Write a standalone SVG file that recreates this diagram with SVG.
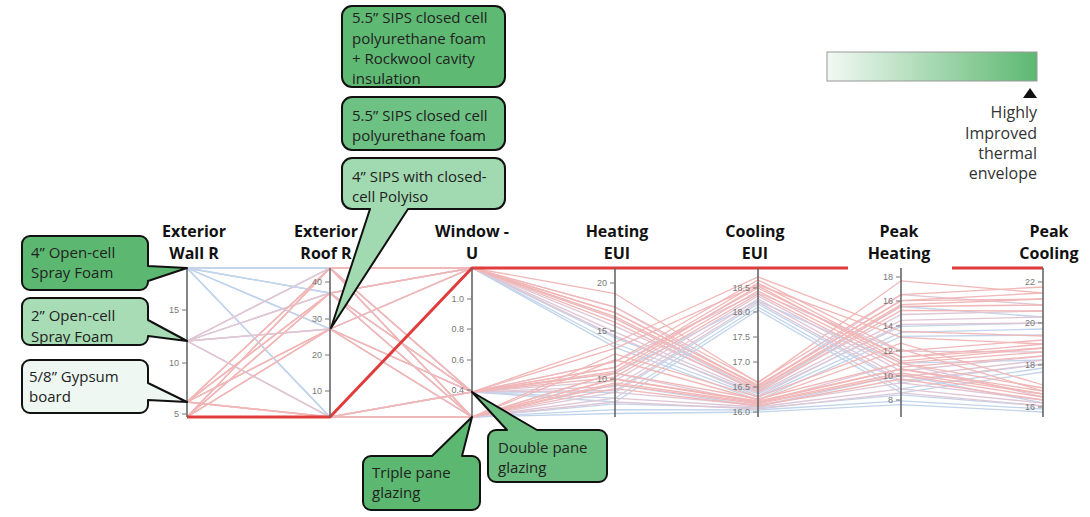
<svg xmlns="http://www.w3.org/2000/svg" width="1090" height="517" viewBox="0 0 1090 517">
<defs>
<linearGradient id="legendGrad" x1="0" y1="0" x2="1" y2="0">
<stop offset="0" stop-color="#f2f9f4"/>
<stop offset="1" stop-color="#5cb870"/>
</linearGradient>
<style>
.faint{opacity:.42}
.b{fill:none;stroke:#6f9bd0;stroke-width:1.3}
.m{fill:none;stroke:#b47a9c;stroke-width:1.3}
.r{fill:none;stroke:#e05555;stroke-width:1.3}
.hl{fill:none;stroke:#e03c3c;stroke-width:3;stroke-linejoin:round}
.axis{stroke:#666;stroke-width:1.6}
.tick{stroke:#777;stroke-width:1}
.tl{font-family:"Liberation Sans",Arial,sans-serif;font-size:9px;fill:#777;text-anchor:end}
.title{font-family:"Open Sans","Liberation Sans",sans-serif;font-weight:bold;font-size:16px;fill:#111;text-anchor:middle}
.call{stroke:#111;stroke-width:2;stroke-linejoin:round}
.ct{font-family:"Open Sans","Liberation Sans",sans-serif;font-size:15px;fill:#222}
.lg{font-family:"Open Sans","Liberation Sans",sans-serif;font-size:16px;fill:#333;text-anchor:end}
</style>
</defs>

<g id="connectors">
<g class="faint">
<polyline class="b" points="187,268 330,268 472,268 615,347.3 758,400 901,336.3 1043,335"/>
<polyline class="b" points="187,268 330,293 472,268 615,343.5 758,397 901,332.3 1043,329"/>
<polyline class="b" points="187,268 330,329 472,268 615,337.7 758,394 901,326.4 1043,323"/>
<polyline class="b" points="187,268 330,417 472,268 615,318.5 758,391 901,306.5 1043,317"/>
<polyline class="m" points="187,341 330,268 472,268 615,335.8 758,396 901,324.4 1043,323"/>
<polyline class="m" points="187,341 330,293 472,268 615,331.9 758,393 901,320.4 1043,317"/>
<polyline class="m" points="187,341 330,329 472,268 615,326.2 758,390 901,314.5 1043,311"/>
<polyline class="m" points="187,341 330,417 472,268 615,307 758,387 901,294.6 1043,305"/>
<polyline class="r" points="187,402 330,268 472,268 615,322.3 758,392 901,310.5 1043,311"/>
<polyline class="r" points="187,402 330,293 472,268 615,318.5 758,389 901,306.5 1043,305"/>
<polyline class="r" points="187,402 330,329 472,268 615,312.7 758,386 901,300.6 1043,299"/>
<polyline class="r" points="187,402 330,417 472,268 615,293.5 758,383 901,280.8 1043,293"/>
<polyline class="r" points="187,417 330,268 472,268 615,316.6 758,388 901,304.6 1043,299"/>
<polyline class="r" points="187,417 330,293 472,268 615,312.7 758,385 901,300.6 1043,293"/>
<polyline class="r" points="187,417 330,329 472,268 615,307 758,382 901,294.6 1043,287"/>
<polyline class="b" points="187,268 330,268 472,392 615,402 758,310 901,392.8 1043,372"/>
<polyline class="b" points="187,268 330,293 472,392 615,398.2 758,307 901,388.9 1043,368"/>
<polyline class="b" points="187,268 330,329 472,392 615,392.4 758,304 901,382.9 1043,364"/>
<polyline class="b" points="187,268 330,417 472,392 615,373.2 758,301 901,363.1 1043,360"/>
<polyline class="m" points="187,341 330,268 472,392 615,390.5 758,302 901,380.9 1043,364"/>
<polyline class="m" points="187,341 330,293 472,392 615,386.7 758,299 901,377 1043,360"/>
<polyline class="m" points="187,341 330,329 472,392 615,380.9 758,296 901,371 1043,356"/>
<polyline class="m" points="187,341 330,417 472,392 615,361.7 758,293 901,351.2 1043,352"/>
<polyline class="r" points="187,402 330,268 472,392 615,377.1 758,294 901,367.1 1043,356"/>
<polyline class="r" points="187,402 330,293 472,392 615,373.2 758,291 901,363.1 1043,352"/>
<polyline class="r" points="187,402 330,329 472,392 615,367.5 758,288 901,357.1 1043,348"/>
<polyline class="r" points="187,402 330,417 472,392 615,348.3 758,285 901,337.3 1043,344"/>
<polyline class="r" points="187,417 330,268 472,392 615,371.3 758,286 901,361.1 1043,348"/>
<polyline class="r" points="187,417 330,293 472,392 615,367.5 758,283 901,357.1 1043,344"/>
<polyline class="r" points="187,417 330,329 472,392 615,361.7 758,280 901,351.2 1043,340"/>
<polyline class="r" points="187,417 330,417 472,392 615,342.5 758,277 901,331.3 1043,336"/>
<polyline class="b" points="187,268 330,268 472,417 615,413.5 758,412 901,404.7 1043,412"/>
<polyline class="b" points="187,268 330,293 472,417 615,409.7 758,410 901,400.8 1043,409"/>
<polyline class="b" points="187,268 330,329 472,417 615,403.9 758,408 901,394.8 1043,406"/>
<polyline class="b" points="187,268 330,417 472,417 615,384.7 758,406 901,375 1043,403"/>
<polyline class="m" points="187,341 330,268 472,417 615,402 758,409 901,392.8 1043,406"/>
<polyline class="m" points="187,341 330,293 472,417 615,398.2 758,407 901,388.9 1043,403"/>
<polyline class="m" points="187,341 330,329 472,417 615,392.4 758,405 901,382.9 1043,400"/>
<polyline class="m" points="187,341 330,417 472,417 615,373.2 758,403 901,363.1 1043,397"/>
<polyline class="r" points="187,402 330,268 472,417 615,388.6 758,406 901,379 1043,400"/>
<polyline class="r" points="187,402 330,293 472,417 615,384.7 758,404 901,375 1043,397"/>
<polyline class="r" points="187,402 330,329 472,417 615,379 758,402 901,369 1043,394"/>
<polyline class="r" points="187,402 330,417 472,417 615,359.8 758,400 901,349.2 1043,391"/>
<polyline class="r" points="187,417 330,268 472,417 615,382.8 758,403 901,373 1043,394"/>
<polyline class="r" points="187,417 330,293 472,417 615,379 758,401 901,369 1043,391"/>
<polyline class="r" points="187,417 330,329 472,417 615,373.2 758,399 901,363.1 1043,388"/>
<polyline class="r" points="187,417 330,417 472,417 615,354 758,397 901,343.2 1043,385"/>
</g>
<polyline class="hl" points="187,417 330,417 472,268 615,268 758,268 848,268"/>
<line class="hl" x1="952" y1="268" x2="1043" y2="268"/>
</g>

<g id="axis-wall">
<line class="axis" x1="187" y1="268" x2="187" y2="417"/>
<line class="tick" x1="182" y1="310" x2="187" y2="310"/><text class="tl" x="179" y="313">15</text>
<line class="tick" x1="182" y1="363" x2="187" y2="363"/><text class="tl" x="179" y="366">10</text>
<line class="tick" x1="182" y1="414" x2="187" y2="414"/><text class="tl" x="179" y="417">5</text>
<text class="title" x="194" y="236.5">Exterior</text>
<text class="title" x="194" y="258.5">Wall R</text>
</g>
<g id="axis-roof">
<line class="axis" x1="330" y1="268" x2="330" y2="417"/>
<line class="tick" x1="325" y1="282" x2="330" y2="282"/><text class="tl" x="322" y="285">40</text>
<line class="tick" x1="325" y1="319" x2="330" y2="319"/><text class="tl" x="322" y="322">30</text>
<line class="tick" x1="325" y1="355" x2="330" y2="355"/><text class="tl" x="322" y="358">20</text>
<line class="tick" x1="325" y1="391" x2="330" y2="391"/><text class="tl" x="322" y="394">10</text>
<text class="title" x="326" y="236.5">Exterior</text>
<text class="title" x="326" y="258.5">Roof R</text>
</g>
<g id="axis-window">
<line class="axis" x1="472" y1="268" x2="472" y2="417"/>
<line class="tick" x1="467" y1="299" x2="472" y2="299"/><text class="tl" x="464" y="302">1.0</text>
<line class="tick" x1="467" y1="329" x2="472" y2="329"/><text class="tl" x="464" y="332">0.8</text>
<line class="tick" x1="467" y1="360" x2="472" y2="360"/><text class="tl" x="464" y="363">0.6</text>
<line class="tick" x1="467" y1="390" x2="472" y2="390"/><text class="tl" x="464" y="393">0.4</text>
<text class="title" x="472" y="236.5">Window -</text>
<text class="title" x="472" y="258.5">U</text>
</g>
<g id="axis-heating">
<line class="axis" x1="615" y1="268" x2="615" y2="417"/>
<line class="tick" x1="610" y1="283" x2="615" y2="283"/><text class="tl" x="607" y="286">20</text>
<line class="tick" x1="610" y1="331" x2="615" y2="331"/><text class="tl" x="607" y="334">15</text>
<line class="tick" x1="610" y1="379" x2="615" y2="379"/><text class="tl" x="607" y="382">10</text>
<text class="title" x="617" y="236.5">Heating</text>
<text class="title" x="617" y="258.5">EUI</text>
</g>
<g id="axis-cooling">
<line class="axis" x1="758" y1="268" x2="758" y2="417"/>
<line class="tick" x1="753" y1="288" x2="758" y2="288"/><text class="tl" x="750" y="291">18.5</text>
<line class="tick" x1="753" y1="312" x2="758" y2="312"/><text class="tl" x="750" y="315">18.0</text>
<line class="tick" x1="753" y1="337" x2="758" y2="337"/><text class="tl" x="750" y="340">17.5</text>
<line class="tick" x1="753" y1="362" x2="758" y2="362"/><text class="tl" x="750" y="365">17.0</text>
<line class="tick" x1="753" y1="387" x2="758" y2="387"/><text class="tl" x="750" y="390">16.5</text>
<line class="tick" x1="753" y1="412" x2="758" y2="412"/><text class="tl" x="750" y="415">16.0</text>
<text class="title" x="755" y="236.5">Cooling</text>
<text class="title" x="755" y="258.5">EUI</text>
</g>
<g id="axis-peakheating">
<line class="axis" x1="901" y1="268" x2="901" y2="417"/>
<line class="tick" x1="896" y1="277" x2="901" y2="277"/><text class="tl" x="893" y="280">18</text>
<line class="tick" x1="896" y1="301" x2="901" y2="301"/><text class="tl" x="893" y="304">16</text>
<line class="tick" x1="896" y1="326" x2="901" y2="326"/><text class="tl" x="893" y="329">14</text>
<line class="tick" x1="896" y1="351" x2="901" y2="351"/><text class="tl" x="893" y="354">12</text>
<line class="tick" x1="896" y1="376" x2="901" y2="376"/><text class="tl" x="893" y="379">10</text>
<line class="tick" x1="896" y1="400" x2="901" y2="400"/><text class="tl" x="893" y="403">8</text>
<text class="title" x="899" y="236.5">Peak</text>
<text class="title" x="899" y="258.5">Heating</text>
</g>
<g id="axis-peakcooling">
<line class="axis" x1="1043" y1="268" x2="1043" y2="417"/>
<line class="tick" x1="1038" y1="282" x2="1043" y2="282"/><text class="tl" x="1035" y="285">22</text>
<line class="tick" x1="1038" y1="323" x2="1043" y2="323"/><text class="tl" x="1035" y="326">20</text>
<line class="tick" x1="1038" y1="365" x2="1043" y2="365"/><text class="tl" x="1035" y="368">18</text>
<line class="tick" x1="1038" y1="407" x2="1043" y2="407"/><text class="tl" x="1035" y="410">16</text>
<text class="title" x="1049" y="236.5">Peak</text>
<text class="title" x="1049" y="258.5">Cooling</text>
</g>

<g id="callout-roof-1">
<rect class="call" x="342" y="6" width="163" height="81" rx="10" fill="#5eb972"/>
<text class="ct" x="352" y="23">5.5” SIPS closed cell</text>
<text class="ct" x="352" y="43.5">polyurethane foam</text>
<text class="ct" x="352" y="63.5">+ Rockwool cavity</text>
<text class="ct" x="352" y="83.5">insulation</text>
</g>
<g id="callout-roof-2">
<rect class="call" x="342" y="97" width="163" height="53" rx="10" fill="#6dc182"/>
<text class="ct" x="352" y="121">5.5” SIPS closed cell</text>
<text class="ct" x="352" y="141">polyurethane foam</text>
</g>
<g id="callout-roof-3">
<path class="call" fill="#a1d9b0" d="M352,158 H495 A10,10 0 0 1 505,168 V199 A10,10 0 0 1 495,209 H408 L331,328 L370,209 H352 A10,10 0 0 1 342,199 V168 A10,10 0 0 1 352,158 Z"/>
<text class="ct" x="352" y="182">4” SIPS with closed-</text>
<text class="ct" x="352" y="202">cell Polyiso</text>
</g>
<g id="callout-wall-1">
<path class="call" fill="#5cb870" d="M30,236 H140 A8,8 0 0 1 148,244 V266 L187,268 L148,281 V282 A8,8 0 0 1 140,290 H30 A8,8 0 0 1 22,282 V244 A8,8 0 0 1 30,236 Z"/>
<text class="ct" x="31" y="258">4” Open-cell</text>
<text class="ct" x="31" y="278">Spray Foam</text>
</g>
<g id="callout-wall-2">
<path class="call" fill="#a8dcb5" d="M30,298 H140 A8,8 0 0 1 148,306 V320 L187,341 L148,336 V337 A8,8 0 0 1 140,345 H30 A8,8 0 0 1 22,337 V306 A8,8 0 0 1 30,298 Z"/>
<text class="ct" x="31" y="321">2” Open-cell</text>
<text class="ct" x="31" y="342">Spray Foam</text>
</g>
<g id="callout-wall-3">
<path class="call" fill="#eef7f1" d="M30,360 H140 A8,8 0 0 1 148,368 V383 L187,402 L148,400 V405 A8,8 0 0 1 140,413 H30 A8,8 0 0 1 22,405 V368 A8,8 0 0 1 30,360 Z"/>
<text class="ct" x="29" y="382">5/8” Gypsum</text>
<text class="ct" x="29" y="402">board</text>
</g>
<g id="callout-triple">
<path class="call" fill="#5cb870" d="M371,456 H432 L472,417 L462,456 H472 A8,8 0 0 1 480,464 V502 A8,8 0 0 1 472,510 H371 A8,8 0 0 1 363,502 V464 A8,8 0 0 1 371,456 Z"/>
<text class="ct" x="372" y="478">Triple pane</text>
<text class="ct" x="372" y="498">glazing</text>
</g>
<g id="callout-double">
<path class="call" fill="#6cbf80" d="M496,430 H507 L472,392 L537,430 H599 A8,8 0 0 1 607,438 V474 A8,8 0 0 1 599,482 H496 A8,8 0 0 1 488,474 V438 A8,8 0 0 1 496,430 Z"/>
<text class="ct" x="498" y="453">Double pane</text>
<text class="ct" x="498" y="473">glazing</text>
</g>

<g id="legend">
<rect x="827" y="52" width="210" height="29" fill="url(#legendGrad)" stroke="#999" stroke-width="1"/>
<polygon points="1023,98 1037,98 1030,88" fill="#111"/>
<text class="lg" x="1037" y="118">Highly</text>
<text class="lg" x="1037" y="139">Improved</text>
<text class="lg" x="1037" y="159">thermal</text>
<text class="lg" x="1037" y="179">envelope</text>
</g>
</svg>
